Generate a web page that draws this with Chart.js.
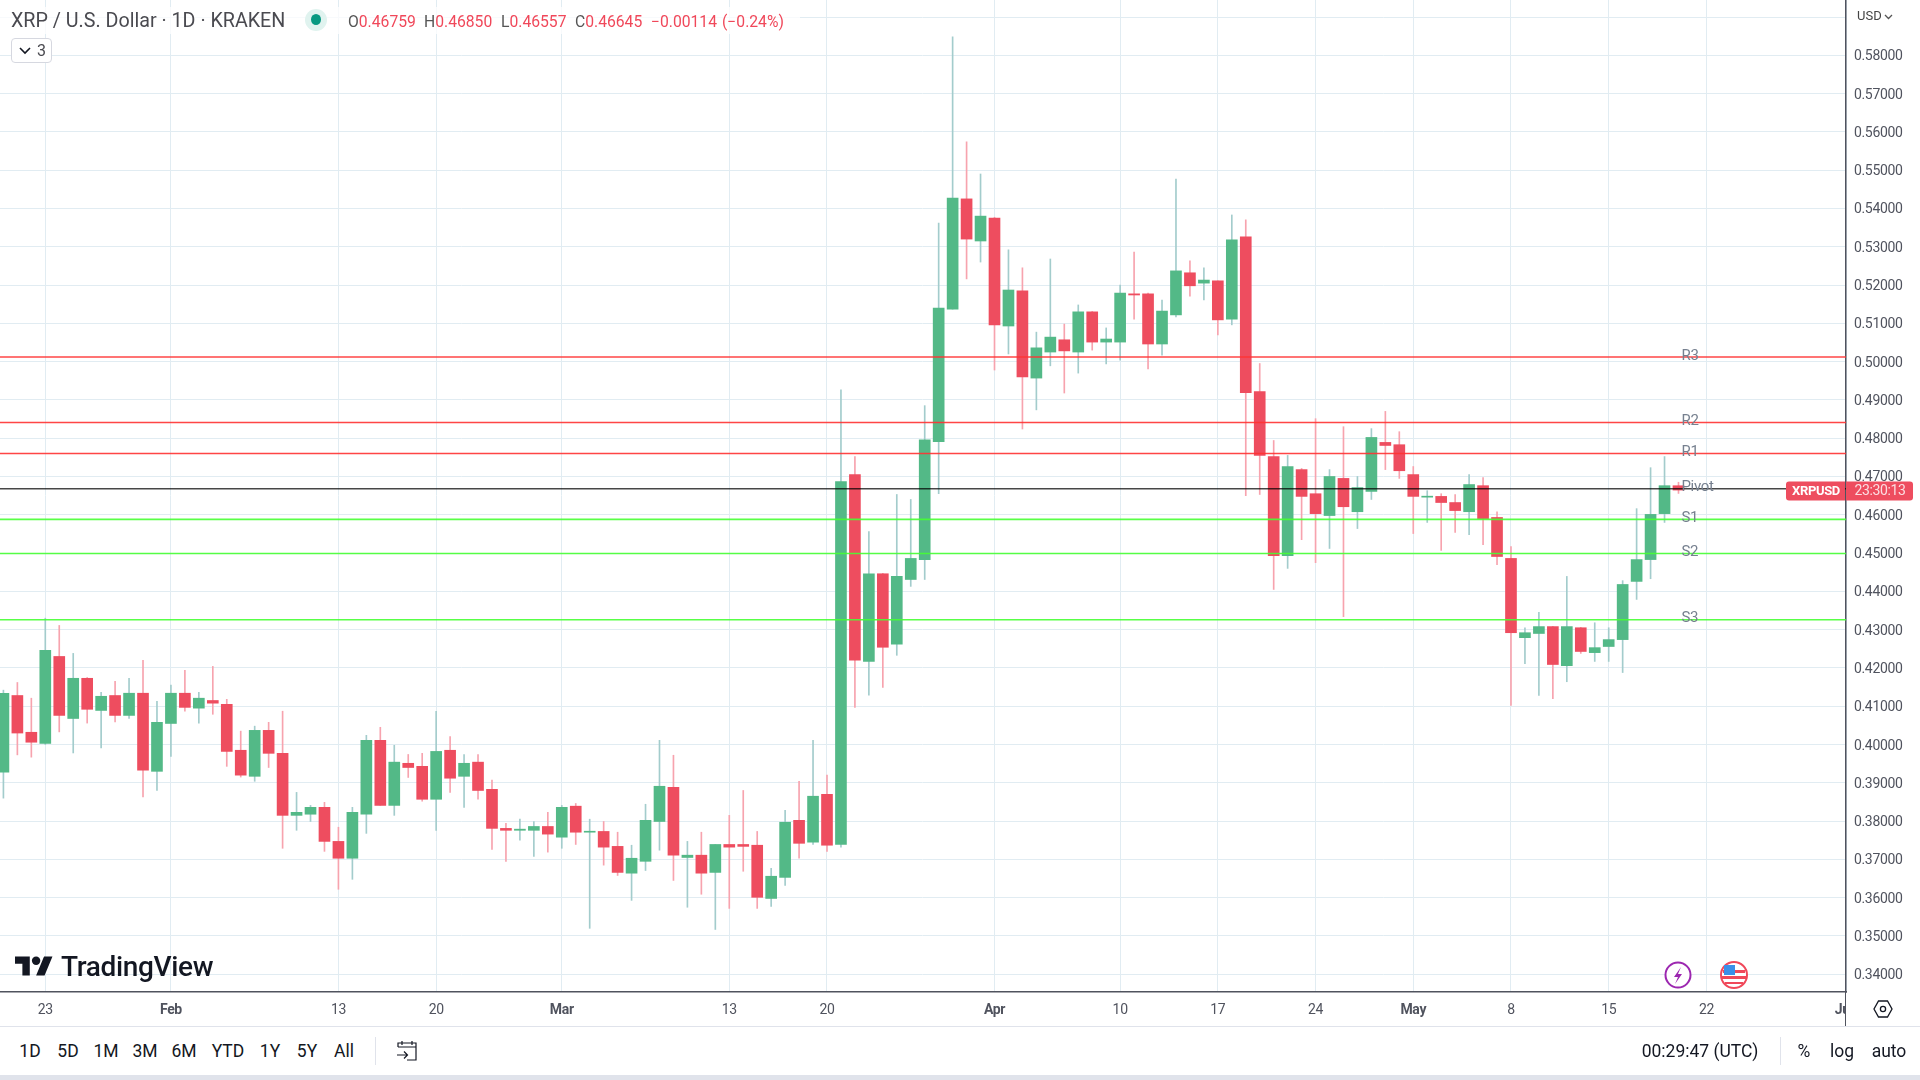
<!DOCTYPE html>
<html>
<head>
<meta charset="utf-8">
<title>XRP / U.S. Dollar</title>
<script src="https://cdn.jsdelivr.net/npm/chart.js@4"></script>
<style>
  html, body { margin: 0; padding: 0; background: #fff; width: 1920px; height: 1080px; overflow: hidden; }
  body { position: relative; font-family: Roboto, sans-serif; color: #131722; }
  canvas { position: absolute; left: 0; top: 0; }
  .abs { position: absolute; white-space: nowrap; }
  .tf { position: absolute; top: 1040px; font-size: 17.5px; line-height: 22px; transform: translateX(-50%); }
  .ohlc { position: absolute; top: 9px; font-size: 15.7px; line-height: 26px; white-space: nowrap; }
  .red { color: #f0485a; }
  .gray { color: #555; }
</style>
</head>
<body>
<canvas id="priceChart" width="1920" height="1026"></canvas>

<div class="abs" style="left:0;top:7px;width:800px;height:27px;background:rgba(255,255,255,.75)"></div>
<div class="abs" style="left:11px;top:7px;font-size:19.7px;line-height:28px;color:#4a4a50">XRP / U.S. Dollar · 1D · KRAKEN</div>
<div class="abs" style="left:305px;top:9px;width:22px;height:22px;border-radius:50%;background:#e0f3ef"></div>
<div class="abs" style="left:311px;top:14px;width:10px;height:11px;border-radius:50%;background:#089981"></div>
<div class="ohlc" style="left:348px"><span class="gray">O</span><span class="red">0.46759</span></div>
<div class="ohlc" style="left:424px"><span class="gray">H</span><span class="red">0.46850</span></div>
<div class="ohlc" style="left:501px"><span class="gray">L</span><span class="red">0.46557</span></div>
<div class="ohlc" style="left:575px"><span class="gray">C</span><span class="red">0.46645</span></div>
<div class="ohlc red" style="left:651px">−0.00114</div>
<div class="ohlc red" style="left:722px">(−0.24%)</div>
<div class="abs" style="left:11px;top:38px;width:39px;height:23px;border:1px solid #d6d8e0;border-radius:4px;background:#fff;font-size:16px;line-height:23px;color:#4a4a50">
  <svg width="12" height="8" viewBox="0 0 12 8" style="position:absolute;left:7px;top:8px"><path d="M1 1l5 5 5-5" fill="none" stroke="#131722" stroke-width="1.6"/></svg>
  <span style="position:absolute;left:25px;top:0">3</span>
</div>

<div class="abs" style="left:1857px;top:6px;font-size:13px;line-height:20px;color:#444">USD</div>
<svg class="abs" width="9" height="6" viewBox="0 0 9 6" style="left:1884px;top:14px"><path d="M1 1l3.5 3.5L8 1" fill="none" stroke="#555" stroke-width="1.3"/></svg>

<!-- watermark -->
<svg class="abs" width="38" height="30" viewBox="0 0 36 28" style="left:15px;top:952px"><path d="M14 22H7V11H0V4h14v18zM28 22h-8l7.5-18h8L28 22z" fill="#131722"/><circle cx="20" cy="8" r="4" fill="#131722"/></svg>
<div class="abs" style="left:61px;top:950px;font-weight:500;font-size:28px;line-height:34px;color:#131722;letter-spacing:-.35px">TradingView</div>

<!-- event markers -->
<svg class="abs" width="30" height="32" viewBox="0 0 30 32" style="left:1663px;top:959px">
  <circle cx="15" cy="16" r="12.5" fill="#fff" stroke="#9c27b0" stroke-width="2"/>
  <path d="M18 8l-7 10h4l-3 7 7-10h-4z" fill="#9c27b0"/>
</svg>
<svg class="abs" width="30" height="32" viewBox="0 0 30 32" style="left:1719px;top:959px">
  <circle cx="15" cy="16" r="13" fill="#fff" stroke="#f0485a" stroke-width="2"/>
  <path d="M4 11h22v3H4zM3 17h24v3H3zM6 23h18v2H6z" fill="#f0485a"/>
  <path d="M5 6h11v10H5z" fill="#3b8fe8"/>
</svg>

<!-- corner below price axis -->
<div class="abs" style="left:1845px;top:993px;width:75px;height:33px;background:#fff;border-left:1.5px solid #50535e;box-sizing:border-box"></div>
<svg class="abs" width="20" height="20" viewBox="0 0 20 20" style="left:1873px;top:999px">
  <path d="M5.5 2h9L19 10l-4.5 8h-9L1 10z" fill="none" stroke="#131722" stroke-width="1.3"/>
  <circle cx="10" cy="10" r="2.6" fill="none" stroke="#131722" stroke-width="1.3"/>
</svg>

<!-- bottom toolbar -->
<div class="abs" style="left:0;top:1026px;width:1920px;height:1px;background:#e0e3eb"></div>
<div class="tf" style="left:30px">1D</div>
<div class="tf" style="left:68px">5D</div>
<div class="tf" style="left:106px">1M</div>
<div class="tf" style="left:145px">3M</div>
<div class="tf" style="left:184px">6M</div>
<div class="tf" style="left:228px">YTD</div>
<div class="tf" style="left:270px">1Y</div>
<div class="tf" style="left:307px">5Y</div>
<div class="tf" style="left:344px">All</div>
<div class="abs" style="left:375px;top:1037px;width:1px;height:28px;background:#e0e3eb"></div>
<svg class="abs" width="22" height="22" viewBox="0 0 22 22" style="left:396px;top:1040px">
  <path d="M2 7V3h18v17H11M2 7h18M6 1v4M16 1v4M1 15h10M8 11.5l3.5 3.5L8 18.5" fill="none" stroke="#131722" stroke-width="1.2"/>
</svg>
<div class="tf" style="left:1700px">00:29:47 (UTC)</div>
<div class="abs" style="left:1780px;top:1037px;width:1px;height:28px;background:#e0e3eb"></div>
<div class="tf" style="left:1804px">%</div>
<div class="tf" style="left:1842px">log</div>
<div class="tf" style="left:1889px">auto</div>
<div class="abs" style="left:0;top:1075px;width:1920px;height:5px;background:#e0e3eb"></div>

<script>
const dates = [
  'Jan 20','Jan 21','Jan 22','Jan 23','Jan 24','Jan 25','Jan 26','Jan 27','Jan 28','Jan 29','Jan 30','Jan 31',
  'Feb 1','Feb 2','Feb 3','Feb 4','Feb 5','Feb 6','Feb 7','Feb 8','Feb 9','Feb 10','Feb 11','Feb 12','Feb 13','Feb 14',
  'Feb 15','Feb 16','Feb 17','Feb 18','Feb 19','Feb 20','Feb 21','Feb 22','Feb 23','Feb 24','Feb 25','Feb 26','Feb 27','Feb 28',
  'Mar 1','Mar 2','Mar 3','Mar 4','Mar 5','Mar 6','Mar 7','Mar 8','Mar 9','Mar 10','Mar 11','Mar 12','Mar 13','Mar 14','Mar 15',
  'Mar 16','Mar 17','Mar 18','Mar 19','Mar 20','Mar 21','Mar 22','Mar 23','Mar 24','Mar 25','Mar 26','Mar 27','Mar 28','Mar 29','Mar 30','Mar 31',
  'Apr 1','Apr 2','Apr 3','Apr 4','Apr 5','Apr 6','Apr 7','Apr 8','Apr 9','Apr 10','Apr 11','Apr 12','Apr 13','Apr 14','Apr 15',
  'Apr 16','Apr 17','Apr 18','Apr 19','Apr 20','Apr 21','Apr 22','Apr 23','Apr 24','Apr 25','Apr 26','Apr 27','Apr 28','Apr 29','Apr 30',
  'May 1','May 2','May 3','May 4','May 5','May 6','May 7','May 8','May 9','May 10','May 11','May 12','May 13','May 14','May 15',
  'May 16','May 17','May 18','May 19','May 20'
];
const opens = [
  .3928,.4128,.4032,.4003,.4230,.4068,.4173,.4089,.4128,.4076,.4134,.3930,.4055,.4134,.4095,.4115,.4105,.3985,.3917,.4037,
  .3977,.3815,.3818,.3836,.3747,.3703,.3818,.4011,.3841,.3951,.3943,.3857,.3985,.3917,.3954,.3883,.3781,.3776,.3776,.3786,
  .3758,.3839,.3771,.3773,.3734,.3664,.3695,.3799,.3888,.3705,.3711,.3666,.3739,.3739,.3737,.3598,.3653,.3802,.3745,.3870,
  .3739,.4705,.4217,.4446,.4262,.4431,.4483,.4791,.5137,.5425,.5315,.5375,.5093,.5185,.4957,.5025,.5057,.5025,.5130,.5051,
  .5051,.5177,.5177,.5046,.5122,.5232,.5205,.5211,.5111,.5326,.4922,.4752,.4493,.4718,.4655,.4598,.4695,.4608,.4661,.4789,
  .4783,.4705,.4646,.4648,.4632,.4608,.4676,.4593,.4486,.4279,.4290,.4308,.4206,.4305,.4240,.4256,.4274,.4426,.4483,.4603,
  .46759
];
const highs = [
  .4142,.4162,.4121,.4330,.4311,.4238,.4175,.4136,.4165,.4173,.4220,.4113,.4155,.4194,.4136,.4204,.4118,.4035,.4048,.4058,
  .4087,.3875,.3841,.3849,.3784,.3836,.4024,.4045,.3998,.3974,.3977,.4087,.4021,.3974,.3974,.3907,.3794,.3805,.3799,.3823,
  .3841,.3846,.3805,.3799,.3771,.3737,.3844,.4011,.3972,.3747,.3771,.3739,.3815,.3880,.3773,.3677,.3828,.3904,.4011,.3920,
  .4926,.4752,.4556,.4447,.4653,.4640,.4885,.5362,.5848,.5574,.5490,.5377,.5292,.5245,.5077,.5268,.5098,.5148,.5131,.5088,
  .5200,.5286,.5179,.5161,.5477,.5263,.5245,.5211,.5383,.5370,.4995,.4794,.4755,.4721,.4851,.4718,.4830,.4700,.4825,.4870,
  .4817,.4726,.4663,.4655,.4653,.4705,.4697,.4608,.4517,.4305,.4345,.4309,.4439,.4306,.4318,.4305,.4428,.4616,.4723,.4752,
  .46850
];
const lows = [
  .3860,.3973,.3967,.4000,.4033,.3978,.4056,.3991,.4059,.4068,.3863,.3880,.3969,.4087,.4056,.4079,.3943,.3915,.3904,.3940,
  .3729,.3776,.3799,.3721,.3622,.3648,.3768,.3841,.3815,.3914,.3852,.3776,.3875,.3836,.3857,.3726,.3695,.3750,.3708,.3719,
  .3729,.3739,.3520,.3685,.3658,.3593,.3671,.3724,.3645,.3575,.3609,.3517,.3572,.3669,.3572,.3577,.3632,.3703,.3739,.3721,
  .3732,.4097,.4129,.4149,.4233,.4413,.4431,.4655,.5137,.5216,.5260,.4978,.5020,.4824,.4874,.4989,.4918,.4970,.5030,.4994,
  .5004,.5111,.4981,.5017,.5117,.5171,.5161,.5070,.5096,.4650,.4653,.4405,.4460,.4535,.4475,.4512,.4334,.4564,.4640,.4718,
  .4695,.4551,.4580,.4507,.4554,.4548,.4522,.4470,.4102,.4211,.4128,.4120,.4164,.4238,.4217,.4217,.4188,.4379,.4433,.4580,
  .46557
];
const closes = [
  .4134,.4030,.4006,.4246,.4076,.4173,.4092,.4126,.4076,.4134,.3933,.4058,.4134,.4097,.4121,.4108,.3982,.3920,.4037,.3977,
  .3815,.3823,.3836,.3747,.3703,.3823,.4011,.3841,.3954,.3940,.3857,.3982,.3912,.3951,.3880,.3781,.3776,.3779,.3786,.3766,
  .3836,.3771,.3773,.3732,.3666,.3703,.3802,.3891,.3711,.3711,.3664,.3739,.3732,.3734,.3601,.3656,.3797,.3742,.3865,.3737,
  .4687,.4220,.4446,.4254,.4439,.4486,.4796,.5140,.5427,.5320,.5380,.5096,.5187,.4960,.5036,.5064,.5028,.5130,.5051,.5059,
  .5179,.5174,.5046,.5132,.5237,.5198,.5213,.5109,.5318,.4919,.4755,.4493,.4726,.4648,.4603,.4700,.4621,.4671,.4802,.4781,
  .4715,.4648,.4648,.4632,.4611,.4679,.4590,.4491,.4292,.4292,.4308,.4209,.4308,.4243,.4253,.4274,.4418,.4483,.4601,.4676,
  .46645
];

const pivotLabels = ['R3', 'R2', 'R1', 'Pivot', 'S1', 'S2', 'S3'];
const pivotValues = [.5012, .4841, .4760, .4668, .4588, .4499, .4326];

const priceTicks = [.34,.35,.36,.37,.38,.39,.40,.41,.42,.43,.44,.45,.46,.47,.48,.49,.50,.51,.52,.53,.54,.55,.56,.57,.58,.59];
const tickDays = [3, 12, 24, 31, 40, 52, 59, 71, 80, 87, 94, 101, 108, 115, 122, 132];
const tickLabels = ['23','Feb','13','20','Mar','13','20','Apr','10','17','24','May','8','15','22','Jun'];
const monthLabels = ['Feb', 'Mar', 'Apr', 'May', 'Jun'];

const symbolName = 'XRPUSD';
const countdown = '23:30:13';

const GREEN = '#53b987';
const RED = '#ee4d5f';
const GREEN_WICK = '#a3cccc';
const RED_WICK = '#f7a3ae';
const AXIS_FONT = 'Roboto, sans-serif';
const X_MIN = -0.245;
const X_MAX = 132;

const isUp = i => closes[i] >= opens[i];

function pivotColor(label) {
  if (label[0] === 'R') return 'rgba(255,50,50,.9)';
  if (label[0] === 'S') return 'rgba(70,255,50,.9)';
  return 'rgba(0,0,0,.72)';
}

// level labels and the last price tags go on top of everything
const overlayPlugin = {
  id: 'overlay',
  beforeDraw(chart) {
    chart.ctx.letterSpacing = '-0.35px';
  },
  afterDraw(chart) {
    const { ctx, scales: { x, y }, chartArea } = chart;
    ctx.save();
    ctx.font = '15px ' + AXIS_FONT;
    ctx.fillStyle = '#76808f';
    ctx.textBaseline = 'middle';
    pivotLabels.forEach((label, i) => {
      ctx.fillText(label, x.getPixelForValue(dates.length - 1) + 3, y.getPixelForValue(pivotValues[i]) - 1);
    });

    const py = y.getPixelForValue(closes[closes.length - 1]) + 1;
    const right = chartArea.right;
    ctx.fillStyle = RED;
    ctx.beginPath();
    ctx.roundRect(right - 60, py - 9.5, 59, 19, [3, 0, 0, 3]);
    ctx.fill();
    ctx.beginPath();
    ctx.roundRect(right, py - 9.5, 67, 19, [0, 3, 3, 0]);
    ctx.fill();
    ctx.font = 'bold 13px ' + AXIS_FONT;
    ctx.fillStyle = '#fff';
    ctx.textAlign = 'center';
    ctx.fillText(symbolName, right - 30, py + 0.5);
    ctx.font = '14px ' + AXIS_FONT;
    ctx.fillStyle = '#fbdde1';
    ctx.fillText(countdown, right + 34, py + 0.5);
    ctx.restore();
  }
};

// axis padding would otherwise push the plot area in from the canvas edge
function noPadding(scale) {
  scale.paddingTop = scale.paddingBottom = scale.paddingLeft = scale.paddingRight = 0;
}

const ctx = document.getElementById('priceChart').getContext('2d');
new Chart(ctx, {
  type: 'bar',
  plugins: [overlayPlugin],
  data: {
    datasets: [
      {
        label: 'Wick',
        data: dates.map((d, i) => ({ x: i, y: [lows[i], highs[i]] })),
        backgroundColor: dates.map((d, i) => isUp(i) ? GREEN_WICK : RED_WICK),
        barThickness: 1,
        grouped: false,
        order: 3,
      },
      {
        label: 'Body',
        data: dates.map((d, i) => ({ x: i, y: [opens[i], closes[i]] })),
        backgroundColor: dates.map((d, i) => isUp(i) ? GREEN : RED),
        barThickness: 11,
        minBarLength: 1,
        grouped: false,
        order: 2,
      },
      ...pivotLabels.map((label, i) => ({
        type: 'line',
        label,
        data: [{ x: X_MIN, y: pivotValues[i] }, { x: X_MAX, y: pivotValues[i] }],
        borderColor: pivotColor(label),
        borderWidth: 1.6,
        pointRadius: 0,
        order: 1,
      })),
    ]
  },
  options: {
    responsive: false,
    animation: false,
    devicePixelRatio: 1,
    layout: { padding: 0 },
    plugins: { legend: { display: false }, tooltip: { enabled: false } },
    scales: {
      x: {
        type: 'linear',
        offset: false,
        min: X_MIN,
        max: X_MAX,
        afterBuildTicks: scale => { scale.ticks = tickDays.map(value => ({ value })); },
        afterFit: scale => { scale.height = 34; noPadding(scale); },
        grid: { color: '#e1ecf2', lineWidth: 1, drawTicks: false, offset: false },
        border: { color: '#50535e', width: 1.5 },
        ticks: {
          autoSkip: false,
          maxRotation: 0,
          padding: 10,
          color: '#50535e',
          font: c => ({
            family: AXIS_FONT,
            size: 14,
            weight: monthLabels.includes(tickLabels[c.index]) ? 'bold' : 'normal',
          }),
          callback: (value, i) => tickLabels[i],
        },
      },
      y: {
        position: 'right',
        min: .33537,
        max: .59444,
        afterBuildTicks: scale => { scale.ticks = priceTicks.map(value => ({ value })); },
        afterFit: scale => { scale.width = 74; noPadding(scale); },
        grid: { color: '#e1ecf2', lineWidth: 1, drawTicks: false },
        border: { color: '#50535e', width: 1.5 },
        ticks: {
          autoSkip: false,
          padding: 8,
          labelOffset: 1.5,
          color: '#50535e',
          font: { family: AXIS_FONT, size: 14 },
          callback: value => value > .585 ? '' : value.toFixed(5),
        },
      },
    },
  },
});
</script>
</body>
</html>
